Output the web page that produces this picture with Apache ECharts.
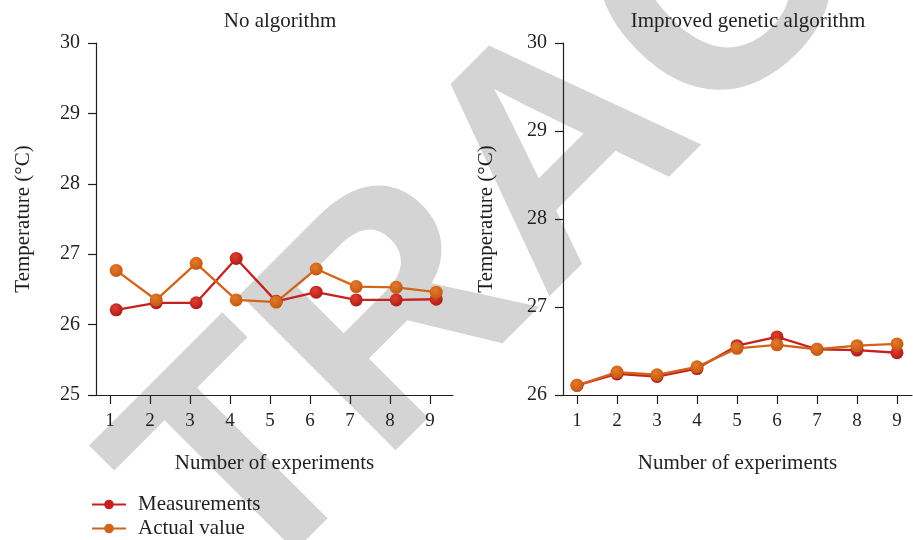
<!DOCTYPE html>
<html><head><meta charset="utf-8">
<script src="https://cdn.jsdelivr.net/npm/echarts@6/dist/echarts.min.js"></script>
<style>html,body{margin:0;padding:0;background:#fff}#c{width:913px;height:540px}</style>
</head><body><div id="c"></div>
<script>
const experiments = [1, 2, 3, 4, 5, 6, 7, 8, 9];
const noAlgMeasurements = [26.21, 26.31, 26.31, 26.94, 26.33, 26.46, 26.35, 26.35, 26.36];
const noAlgActual = [26.77, 26.35, 26.87, 26.35, 26.32, 26.79, 26.54, 26.53, 26.46];
const igaMeasurements = [26.11, 26.24, 26.21, 26.30, 26.56, 26.66, 26.52, 26.51, 26.48];
const igaActual = [26.11, 26.26, 26.23, 26.32, 26.53, 26.57, 26.52, 26.56, 26.58];
const seriesNames = ['Measurements', 'Actual value'];
const panelTitles = ['No algorithm', 'Improved genetic algorithm'];
const yName = 'Temperature (°C)';
const xName = 'Number of experiments';

const FONT = '"Liberation Serif", "DejaVu Serif", serif';
const TXT = '#231f20';
const RED = '#c4221f';
const ORANGE = '#d2641c';

function grad(c0, c1) {
  return new echarts.graphic.RadialGradient(0.4, 0.35, 0.7, [
    {offset: 0, color: c0}, {offset: 1, color: c1}
  ]);
}
const redFill = grad('#e3402f', '#a81a17');
const orFill = grad('#e47a2c', '#c2560f');

const pairs = xs => ys => xs.map((x, i) => [x, ys[i]]);
const P = pairs(experiments);

function xAx(grid, min, max, show) {
  return {
    type: 'value', gridIndex: grid, min, max, show,
    axisLine: {show: true, lineStyle: {color: TXT, width: 1.2}},
    axisTick: {show: true, length: 9, customValues: experiments, lineStyle: {color: TXT, width: 1.2}},
    axisLabel: {show: true, customValues: experiments, margin: 17, fontFamily: FONT, fontSize: 19, color: TXT},
    splitLine: {show: false},
    name: show ? xName : '', nameLocation: 'middle', nameGap: 58,
    nameTextStyle: {fontFamily: FONT, fontSize: 21, color: TXT}
  };
}
function yAx(grid, min, gap) {
  return {
    type: 'value', gridIndex: grid, min, max: 30, interval: 1,
    axisLine: {show: true, lineStyle: {color: TXT, width: 1.2}},
    axisTick: {show: true, length: 8, lineStyle: {color: TXT, width: 1.2}},
    axisLabel: {margin: 16, fontFamily: FONT, fontSize: 20, color: TXT},
    splitLine: {show: false},
    name: yName, nameLocation: 'middle', nameGap: gap,
    nameTextStyle: {fontFamily: FONT, fontSize: 21, color: TXT}
  };
}
function ser(name, x, y, data, color, fill) {
  return {
    name, type: 'line', xAxisIndex: x, yAxisIndex: y, data,
    symbol: 'circle', symbolSize: 13,
    lineStyle: {color, width: 2.3},
    itemStyle: {color: fill, borderWidth: 0},
    emphasis: {disabled: true}, animation: false
  };
}

const chart = echarts.init(document.getElementById('c'));
chart.setOption({
  backgroundColor: '#fff',
  animation: false,
  graphic: [{
    type: 'text', x: 494, y: 227, rotation: 45 * Math.PI / 180, z: -100, silent: true,
    style: {text: 'TRAC', font: 'bold 320px "Liberation Sans", Arial, sans-serif', fill: '#d4d4d4',
      textAlign: 'center', textVerticalAlign: 'middle'}
  }],
  title: [
    {text: panelTitles[0], left: 275, top: 6, textAlign: 'center',
     textStyle: {fontFamily: FONT, fontSize: 21, fontWeight: 'normal', color: TXT}},
    {text: panelTitles[1], left: 743, top: 6, textAlign: 'center',
     textStyle: {fontFamily: FONT, fontSize: 21, fontWeight: 'normal', color: TXT}}
  ],
  legend: {
    orient: 'vertical', left: 91, top: 494, padding: 0, itemWidth: 34, itemHeight: 12, itemGap: 3,
    data: [
      {name: seriesNames[0], itemStyle: {color: RED}, lineStyle: {color: RED}},
      {name: seriesNames[1], itemStyle: {color: ORANGE}, lineStyle: {color: ORANGE}}
    ],
    textStyle: {fontFamily: FONT, fontSize: 21, color: TXT, padding: [0, 0, 0, 7]}
  },
  grid: [
    {left: 96, top: 43, width: 357, height: 352},
    {left: 563, top: 43, width: 349, height: 352}
  ],
  xAxis: [
    xAx(0, 0.65, 9.575, true),
    xAx(1, 0.65, 9.375, true),
    xAx(0, 0.495, 9.42, false)
  ],
  yAxis: [yAx(0, 25, 62), yAx(1, 26, 66)],
  series: [
    ser(seriesNames[0], 2, 0, P(noAlgMeasurements), RED, redFill),
    ser(seriesNames[1], 2, 0, P(noAlgActual), ORANGE, orFill),
    ser(seriesNames[0], 1, 1, P(igaMeasurements), RED, redFill),
    ser(seriesNames[1], 1, 1, P(igaActual), ORANGE, orFill)
  ]
});
</script></body></html>
